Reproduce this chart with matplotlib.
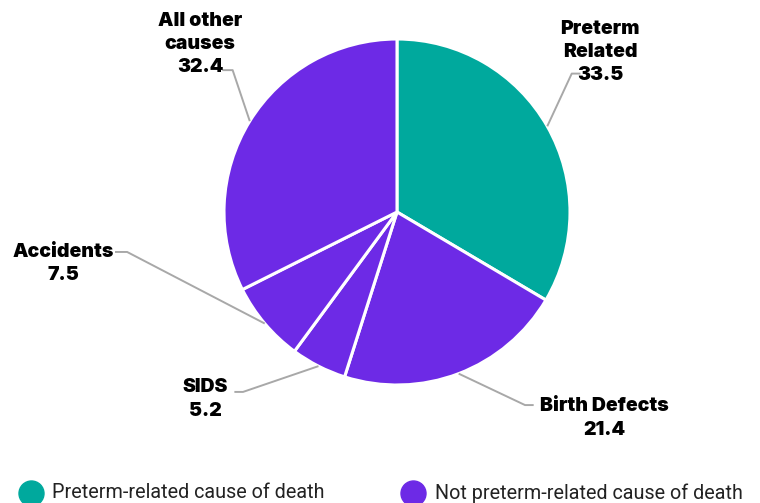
import matplotlib
matplotlib.use("Agg")
import matplotlib.pyplot as plt
from matplotlib.lines import Line2D
import numpy as np

# data
causes = ["Preterm\nRelated", "Birth Defects", "SIDS", "Accidents", "All other\ncauses"]
values = [33.5, 21.4, 5.2, 7.5, 32.4]
is_preterm = [True, False, False, False, False]
legend_labels = ["Preterm-related cause of death", "Not preterm-related cause of death"]

TEAL = "#00a99d"
PURPLE = "#6d2ae6"
LINE = "#a8a8a8"

plt.rcParams["font.family"] = ["Inter", "DejaVu Sans"]

W, H = 760, 503
fig = plt.figure(figsize=(W / 100, H / 100), dpi=100)
cx, cy, r = 397, 212, 173
ax = fig.add_axes([(cx - r) / W, (H - cy - r) / H, 2 * r / W, 2 * r / H])

colors = [TEAL if p else PURPLE for p in is_preterm]
wedges, _ = ax.pie(values, colors=colors, startangle=90, counterclock=False,
                   wedgeprops=dict(edgecolor="white", linewidth=2.2))
ax.set_xlim(-1, 1)
ax.set_ylim(-1, 1)
ax.set_aspect("equal")
ax.axis("off")

# label layout: (elbow x, elbow y, end x, text x, text y) in data units
layout = [
    (1.01, 0.80, 1.06, 1.175, 0.925),
    (0.74, -1.116, 0.79, 1.20, -1.19),
    (-0.89, -1.04, -0.94, -1.11, -1.081),
    (-1.56, -0.231, -1.63, -1.93, -0.298),
    (-0.95, 0.82, -1.01, -1.139, 0.971),
]

for w, name, val, (ex, ey, endx, tx, ty) in zip(wedges, causes, values, layout):
    ang = np.deg2rad((w.theta1 + w.theta2) / 2)
    sx, sy = np.cos(ang), np.sin(ang)
    ax.plot([sx, ex, endx], [sy, ey, ey], color=LINE, lw=1.4, clip_on=False,
            solid_capstyle="butt")
    ax.text(tx, ty, f"{name}\n{val}", ha="center", va="center", fontsize=14,
            fontweight=900, linespacing=1.38, clip_on=False)

# legend, placed by hand along the bottom edge
leg_y = (H - 493) / H
for (mx, tx), c, lab in zip([(30.5, 52), (413, 435)], (TEAL, PURPLE), legend_labels):
    fig.add_artist(Line2D([mx / W], [leg_y], marker="o", ls="", markersize=18,
                          color=c, markeredgecolor=c, transform=fig.transFigure))
    fig.text(tx / W, leg_y, lab, ha="left", va="center", fontsize=14.2,
             family=["Roboto", "DejaVu Sans"], color="#222222")

fig.savefig("out.png", dpi=100)
